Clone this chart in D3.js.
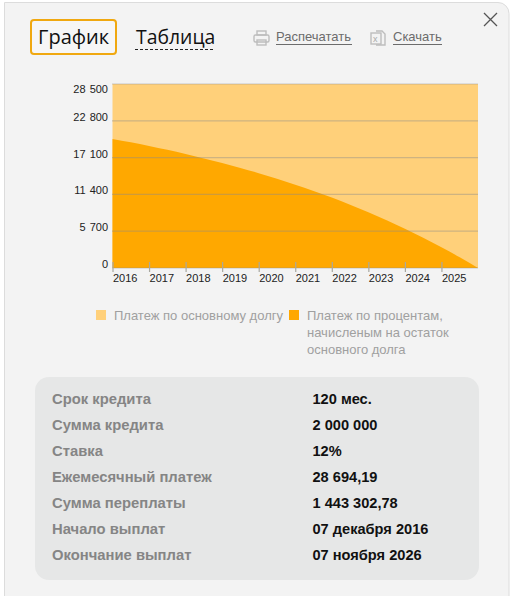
<!DOCTYPE html>
<html><head><meta charset="utf-8">
<script src="https://cdn.jsdelivr.net/npm/d3@7"></script>
<style>html,body{margin:0;padding:0;background:#fff;overflow:hidden}svg{display:block}</style>
</head><body><svg id="c" width="516" height="596"></svg>
<script>
const years = [2016,2017,2018,2019,2020,2021,2022,2023,2024,2025];
const yTicks = [0,5700,11400,17100,22800,28500];
const yLabels = ["0","5 700","11 400","17 100","22 800","28 500"];
const interestT = [0,0.5,1,1.5,2,2.5,3,3.5,4,4.5,5,5.5,6,6.5,7,7.5,8,8.5,9,9.5,10];
const interestV = [20000,19460,18900,18300,17670,16980,16270,15490,14690,13820,12900,11930,10910,9800,8640,7400,6090,4700,3230,1660,0];
const totalV = 28500;
const legendA = ["Платеж по основному долгу"];
const legendB = ["Платеж по процентам,","начисленым на остаток","основного долга"];
const infoLabels = ["Срок кредита","Сумма кредита","Ставка","Ежемесячный платеж","Сумма переплаты","Начало выплат","Окончание выплат"];
const infoValues = ["120 мес.","2 000 000","12%","28 694,19","1 443 302,78","07 декабря 2016","07 ноября 2026"];

const svg = d3.select("#c");
const sans = "'Liberation Sans',Arial,sans-serif";
// panel
svg.append("path").attr("d","M4.5 596V2.5H498a11 11 0 0 1 11 11V596")
  .attr("fill","#f3f3f3").attr("stroke","#dcdcdc");
// tabs
svg.append("rect").attr("x",31).attr("y",20).attr("width",85).attr("height",34).attr("rx",3)
  .attr("fill","#f6f6f6").attr("stroke","#f0a810").attr("stroke-width",2);
const tabFont = "'Open Sans','Noto Sans',sans-serif";
svg.append("text").attr("x",38).attr("y",44).attr("font-family",tabFont).attr("font-size",20).attr("fill","#111").text("График");
svg.append("text").attr("x",136).attr("y",44).attr("font-family",tabFont).attr("font-size",19.4).attr("fill","#111").text("Таблица");
svg.append("line").attr("x1",135).attr("x2",215).attr("y1",49.5).attr("y2",49.5).attr("stroke","#222").attr("stroke-dasharray","3 2");
// print icon
const ic = svg.append("g").attr("fill","none").attr("stroke","#bdbdbd").attr("stroke-width",1.4);
ic.append("rect").attr("x",257).attr("y",31).attr("width",9).attr("height",4);
ic.append("rect").attr("x",254).attr("y",35).attr("width",15).attr("height",7).attr("rx",1.5);
ic.append("rect").attr("x",257).attr("y",40).attr("width",9).attr("height",5);
// xls icon
ic.append("path").attr("d","M376 31h6l3 3v11h-9");
ic.append("rect").attr("x",371).attr("y",33).attr("width",10).attr("height",11);
svg.append("text").attr("x",373).attr("y",42).attr("font-family",sans).attr("font-size",9).attr("fill","#aaa").text("x");
// links
[["Распечатать",276,352],["Скачать",393,442]].forEach(d=>{
  svg.append("text").attr("x",d[1]).attr("y",41).attr("font-family",sans).attr("font-size",13).attr("fill","#6c6c6c").text(d[0]);
  svg.append("line").attr("x1",d[1]).attr("x2",d[2]).attr("y1",44.5).attr("y2",44.5).attr("stroke","#6c6c6c");
});
// close
svg.append("path").attr("d","M484 13L497 26M497 13L484 26").attr("stroke","#555").attr("stroke-width",1.3).attr("fill","none");

// chart
const x = d3.scaleLinear().domain([0,10]).range([112.5,478]);
const y = d3.scaleLinear().domain([0,28500]).range([268,84]);
svg.append("path").datum(interestT).attr("fill","#ffd07a")
  .attr("d",d3.area().x(d=>x(d)).y0(y(0)).y1(y(totalV)));
svg.append("path").datum(interestT).attr("fill","#ffa800")
  .attr("d",d3.area().x(d=>x(d)).y0(y(0)).y1((d,i)=>y(interestV[i])).curve(d3.curveMonotoneX));
// y axis
const ya = svg.append("g").attr("transform","translate(112,0)")
  .call(d3.axisLeft(y).tickValues(yTicks).tickFormat((d,i)=>yLabels[i]).tickSize(0).tickPadding(4));
ya.select(".domain").remove();
ya.selectAll("text").attr("font-family",sans).attr("font-size",11).attr("fill","#222")
  .attr("style","word-spacing:1px")
  .attr("dy",null).attr("y",d=>d===28500?8:-0.5);
svg.append("g").selectAll("line").data(yTicks).join("line")
  .attr("x1",112).attr("x2",478).attr("y1",d=>y(d)).attr("y2",d=>y(d))
  .attr("stroke","#8a8a8a").attr("stroke-opacity",0.42).attr("stroke-width",1.2);
// x axis
const xa = svg.append("g").attr("transform","translate(0,268)")
  .call(d3.axisBottom(x).tickValues(d3.range(10)).tickFormat((d,i)=>years[i]).tickSize(-5).tickPadding(5));
xa.select(".domain").remove();
xa.selectAll("line").attr("stroke","#a8a8a0").attr("stroke-width",1.2).attr("y2",-6).attr("y1",4);
xa.selectAll("text").attr("font-family",sans).attr("font-size",11).attr("fill","#222")
  .attr("text-anchor","start").attr("x",0).attr("y",6.5).attr("dy","0.71em");
// legend
const lc = "#a0a0a0";
svg.append("rect").attr("x",96).attr("y",310).attr("width",10).attr("height",10).attr("fill","#ffd07a");
svg.append("rect").attr("x",289).attr("y",310).attr("width",10).attr("height",10).attr("fill","#ffa800");
svg.append("text").attr("x",114).attr("y",320).attr("font-family",sans).attr("font-size",13).attr("fill",lc).text(legendA[0]);
svg.append("g").selectAll("text").data(legendB).join("text")
  .attr("x",307).attr("y",(d,i)=>320+i*17).attr("font-family",sans).attr("font-size",13).attr("fill",lc).text(d=>d);
// info
svg.append("rect").attr("x",35).attr("y",377).attr("width",444).attr("height",203).attr("rx",14).attr("fill","#e6e7e7");
const rowY = d3.scalePoint().domain(d3.range(7)).range([404,560]);
svg.append("g").selectAll("text").data(infoLabels).join("text")
  .attr("x",52).attr("y",(d,i)=>rowY(i)).attr("font-family",sans).attr("font-size",14.8).attr("font-weight","bold").attr("fill","#858585").text(d=>d);
svg.append("g").selectAll("text").data(infoValues).join("text")
  .attr("x",312.5).attr("y",(d,i)=>rowY(i)).attr("font-family",sans).attr("font-size",14.6).attr("font-weight","bold").attr("fill","#111").text(d=>d);
</script></body></html>
